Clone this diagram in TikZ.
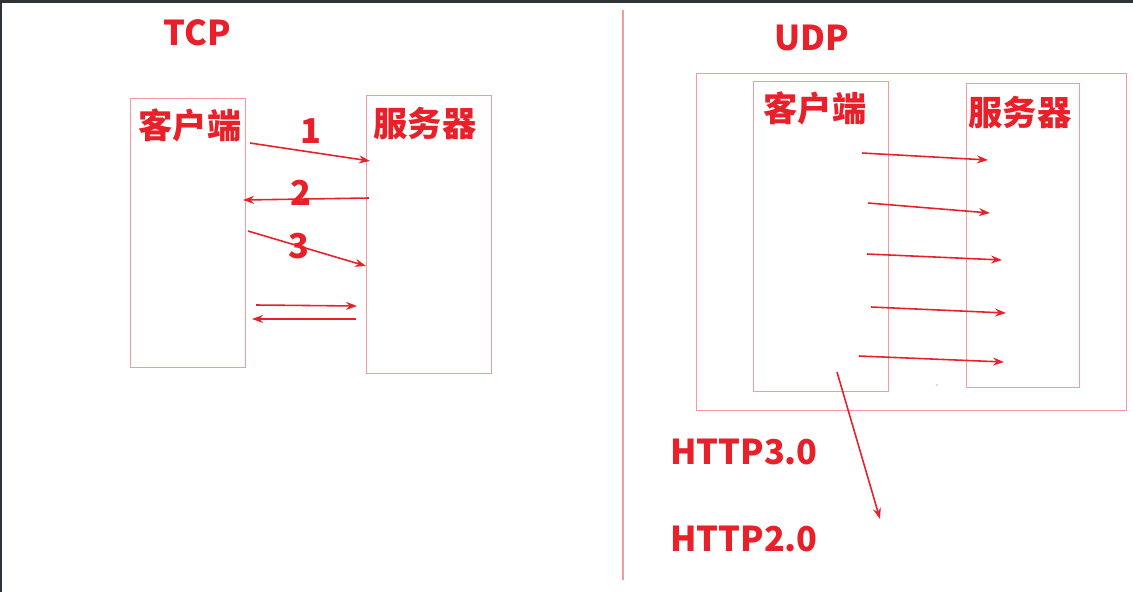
\documentclass[tikz,border=0pt]{standalone}
\usepackage{fontspec}
\newfontfamily\cjk{Noto Sans CJK SC}
\usetikzlibrary{arrows.meta}

\definecolor{inkred}{HTML}{E8202A}
\definecolor{boxred}{HTML}{F29A9E}
\definecolor{framegray}{HTML}{2E3338}

\begin{document}
\begin{tikzpicture}[
  x=0.02cm, y=-0.02cm,
  box/.style={draw=boxred, line width=0.6pt, anchor=north west, inner sep=0pt},
  label/.style={text=inkred, font=\cjk\bfseries\fontsize{19.5}{23}\selectfont, inner sep=0pt},
  msg/.style={-{Stealth[length=2.2mm, width=1.6mm]}, draw=inkred, line width=0.9pt}
]
\useasboundingbox (0,0) rectangle (1133,592);
% screenshot frame
\fill[framegray] (0,0) rectangle (1133,3);
\fill[framegray] (0,0) rectangle (2,592);
\draw[boxred, line width=0.6pt] (623,10) -- (623,580);

% TCP side
\node[label] (tcp) at (197,33) {TCP};
\node[box, minimum width=2.3cm, minimum height=5.38cm] (tclient) at (130,98) {};
\node[box, minimum width=2.5cm, minimum height=5.56cm] (tserver) at (366,95) {};
\node[label] (tclientl) at (190,125) {客户端};
\node[label] (tserverl) at (425,123) {服务器};
\node[label] (one) at (311,131) {1};
\node[label] (two) at (301,193) {2};
\node[label] (three) at (299,246) {3};

\coordinate (a1) at (250,143); \coordinate (b1) at (370,161);
\coordinate (a2) at (369,198); \coordinate (b2) at (243,200);
\coordinate (a3) at (248,231); \coordinate (b3) at (366,266);
\coordinate (a4) at (256,305); \coordinate (b4) at (357,306);
\coordinate (a5) at (356,319); \coordinate (b5) at (252,319);
\foreach \i in {1,...,5}
  \draw[msg] (a\i) -- (b\i);

% UDP side
\node[label] (udp) at (812,38) {UDP};
\node[box, minimum width=8.6cm, minimum height=6.74cm] (uframe) at (696,73) {};
\node[box, minimum width=2.7cm, minimum height=6.2cm] (uclient) at (753,81) {};
\node[box, minimum width=2.26cm, minimum height=6.08cm] (userver) at (966,83) {};
\node[label] (uclientl) at (815,108) {客户端};
\node[label] (userverl) at (1020,112) {服务器};

\foreach \i/\sx/\sy/\ex/\ey in {1/862/153/988/160, 2/868/203/990/213,
    3/867/254/1002/260, 4/871/307/1006/313, 5/859/356/1004/362} {
  \coordinate (p\i) at (\sx,\sy);
  \coordinate (q\i) at (\ex,\ey);
  \draw[msg] (p\i) -- (q\i);
}
\fill[boxred] (937,385) circle (0.8);

\coordinate (d1) at (837,372); \coordinate (d2) at (880,519);
\draw[msg] (d1) -- (d2);

\node[label] (h3) at (744,452) {HTTP3.0};
\node[label] (h2) at (744,539) {HTTP2.0};
\end{tikzpicture}
\end{document}
